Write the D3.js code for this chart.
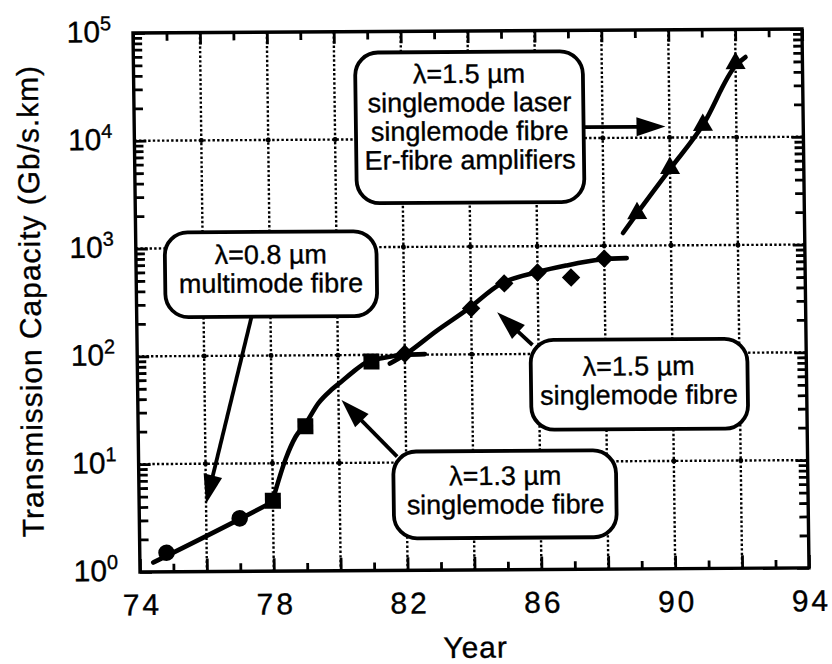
<!DOCTYPE html>
<html><head><meta charset="utf-8">
<script src="https://cdn.jsdelivr.net/npm/d3@7"></script>
<style>
body{margin:0;background:#fff}
svg{display:block}
text{font-family:"Liberation Sans",Arial,Helvetica,sans-serif;fill:#000;stroke:#000;stroke-width:0.35px}
</style>
</head><body>
<svg id="c" width="832" height="664"></svg>
<script>
// ---------------- data ----------------
const xTickLabels = [74, 78, 82, 86, 90, 94];
const yTickExponents = [0, 1, 2, 3, 4, 5];
const gridYears = [76, 78, 80, 82, 84, 86, 88, 90, 92];
const gridDecades = [1e1, 1e2, 1e3, 1e4];

// 0.8 um multimode fibre
const multimodeCircles = [[74.8, 1.5], [77, 3.1]];
const multimodeCurve = [[74.4, 1.22], [77, 3.05], [78, 4.4]];
// 1.3 um singlemode fibre
const sm13Squares = [[78, 4.5], [79, 22], [81, 87]];
const sm13Curve = [[78, 4.6], [78.4, 11], [78.7, 17.5], [79, 23], [79.4, 36], [79.8, 48], [80.1, 57], [80.4, 68], [80.8, 84], [81.3, 93], [82, 100], [82.6, 101]];
// 1.5 um singlemode fibre
const sm15Diamonds = [[82, 102], [84, 267], [85, 453], [86, 570], [87, 510], [88, 760]];
const sm15Curve = [[81.55, 83], [82, 100], [82.96, 166], [83.9, 263], [84.9, 450], [86.0, 575], [86.85, 658], [87.9, 745], [88.67, 765]];
// 1.5 um singlemode laser + Er-fibre amplifiers
const erTriangles = [[89, 1990], [90, 5200], [91, 13000], [92, 48400]];
const erCurve = [[88.57, 1310], [89, 1990], [90, 5100], [91, 13000], [92, 46000], [92.3, 55300]];

const noteTexts = [
  ["λ=1.5 µm", "singlemode laser", "singlemode fibre", "Er-fibre amplifiers"],
  ["λ=0.8 µm", "multimode fibre"],
  ["λ=1.5 µm", "singlemode fibre"],
  ["λ=1.3 µm", "singlemode fibre"]
];
const xTitle = "Year";
const yTitle = "Transmission Capacity (Gb/s.km)";

// ---------------- layout ----------------
const W = 670, H = 540;
const x = d3.scaleLinear().domain([74, 94]).range([0, W]);
const y = d3.scaleLog().domain([1, 1e5]).range([H, 0]);

const svg = d3.select('#c');
// slight skew / rotation of the scanned figure
const g = svg.append('g').attr('transform', 'matrix(0.9985,-0.006,0.013,0.998,133,33)');

// gridlines (dotted)
const grid = g.append('g');
grid.selectAll('line.v').data(gridYears).join('line').attr('class', 'v')
  .attr('x1', d => x(d)).attr('x2', d => x(d)).attr('y1', 0).attr('y2', H);
grid.selectAll('line.h').data(gridDecades).join('line').attr('class', 'h')
  .attr('y1', d => y(d)).attr('y2', d => y(d)).attr('x1', 0).attr('x2', W);
grid.selectAll('line').attr('stroke', '#000').attr('stroke-width', 2.4).attr('stroke-dasharray', '2.4,2.2');
const inter = [];
gridYears.forEach(a => gridDecades.forEach(b => inter.push([a, b])));
grid.selectAll('circle').data(inter).join('circle')
  .attr('cx', d => x(d[0])).attr('cy', d => y(d[1])).attr('r', 2.5).attr('fill', '#000');

// annotation boxes
const noteLayout = [
  {box: [222, 21, 450, 172], cx: 336, base: 52, arrow: [451, 97, 532, 97]},
  {box: [29, 200, 241, 285], cx: 135, base: 232, arrow: [115, 285, 67, 472]},
  {box: [394, 310, 611, 400], cx: 502, base: 346, arrow: [396, 315, 361, 282]},
  {box: [255, 421, 478, 508], cx: 367, base: 455, arrow: [259, 426, 204, 369]}
];
const notes = g.append('g');
function arrow(sel, a) {
  const [x1, y1, x2, y2] = a;
  const L = 29, hw = 9.5;
  const dx = x2 - x1, dy = y2 - y1, len = Math.hypot(dx, dy);
  const ux = dx / len, uy = dy / len;
  const bx = x2 - ux * L, by = y2 - uy * L;
  sel.append('line').attr('x1', x1).attr('y1', y1).attr('x2', bx + ux * 2).attr('y2', by + uy * 2)
    .attr('stroke', '#000').attr('stroke-width', 3.8);
  sel.append('path').attr('d', `M${x2},${y2}L${bx - uy * hw},${by + ux * hw}L${bx + uy * hw},${by - ux * hw}Z`)
    .attr('fill', '#000');
}
noteLayout.forEach((n, i) => {
  const s = notes.append('g');
  arrow(s, n.arrow);
  const [x0, y0, x1, y1] = n.box;
  s.append('rect').attr('x', x0).attr('y', y0).attr('width', x1 - x0).attr('height', y1 - y0)
    .attr('rx', 23).attr('fill', '#fff').attr('stroke', '#000').attr('stroke-width', 3.8);
  s.selectAll('text').data(noteTexts[i]).join('text')
    .attr('x', n.cx).attr('y', (d, j) => n.base + j * 28.8)
    .attr('text-anchor', 'middle').attr('font-size', 27).text(d => d);
});

// curves
const line = d3.line().x(d => x(d[0])).y(d => y(d[1])).curve(d3.curveMonotoneX);
[multimodeCurve, sm13Curve, sm15Curve, erCurve].forEach(c => {
  g.append('path').attr('d', line(c)).attr('fill', 'none').attr('stroke', '#000')
    .attr('stroke-width', 4.6).attr('stroke-linecap', 'round').attr('stroke-linejoin', 'round');
});

// markers
g.append('g').selectAll('circle').data(multimodeCircles).join('circle')
  .attr('cx', d => x(d[0])).attr('cy', d => y(d[1])).attr('r', 8.3).attr('fill', '#000');
g.append('g').selectAll('path').data(sm13Squares).join('path')
  .attr('transform', d => `translate(${x(d[0])},${y(d[1])})`)
  .attr('d', d3.symbol(d3.symbolSquare, 256)).attr('fill', '#000');
g.append('g').selectAll('path').data(sm15Diamonds).join('path')
  .attr('transform', d => `translate(${x(d[0])},${y(d[1])}) rotate(45)`)
  .attr('d', d3.symbol(d3.symbolSquare, 170)).attr('fill', '#000');
g.append('g').selectAll('path').data(erTriangles).join('path')
  .attr('transform', d => `translate(${x(d[0])},${y(d[1])})`)
  .attr('d', d3.symbol(d3.symbolTriangle, 175)).attr('fill', '#000');

// axes (ticks inside)
const decades = yTickExponents.map(e => 10 ** e);
const minorVals = [];
for (let e = 0; e < 5; e++) for (let k = 2; k < 10; k++) minorVals.push(k * 10 ** e);
const majorYears = d3.range(74, 95, 2);
const minorYears = d3.range(75, 94, 2);
function styleAxis(sel) {
  sel.select('.domain').remove();
  sel.selectAll('.tick line').attr('stroke', '#000').attr('stroke-width', 2.8);
}
g.append('g').call(d3.axisLeft(y).tickValues(decades).tickSize(-12).tickFormat('')).call(styleAxis);
g.append('g').call(d3.axisLeft(y).tickValues(minorVals).tickSize(-9).tickFormat('')).call(styleAxis);
g.append('g').attr('transform', `translate(${W},0)`).call(d3.axisRight(y).tickValues(decades).tickSize(-12).tickFormat('')).call(styleAxis);
g.append('g').attr('transform', `translate(${W},0)`).call(d3.axisRight(y).tickValues(minorVals).tickSize(-9).tickFormat('')).call(styleAxis);
g.append('g').attr('transform', `translate(0,${H})`).call(d3.axisBottom(x).tickValues(majorYears).tickSize(-13).tickFormat('')).call(styleAxis);
g.append('g').attr('transform', `translate(0,${H})`).call(d3.axisBottom(x).tickValues(minorYears).tickSize(-8).tickFormat('')).call(styleAxis);
g.append('g').call(d3.axisTop(x).tickValues(majorYears).tickSize(-12).tickFormat('')).call(styleAxis);
g.append('g').call(d3.axisTop(x).tickValues(minorYears).tickSize(-8).tickFormat('')).call(styleAxis);

// x tick labels
const xl = g.append('g').attr('transform', `translate(0,${H})`)
  .call(d3.axisBottom(x).tickValues(xTickLabels).tickSize(0).tickPadding(22).tickFormat(d3.format('d')));
xl.select('.domain').remove();
xl.selectAll('text').attr('font-size', 30).attr('font-family', '"Liberation Sans",Arial,sans-serif')
  .attr('letter-spacing', 3).attr('dx', 1.5).attr('fill', '#000');

// y tick labels 10^n
g.append('g').selectAll('text').data(yTickExponents).join('text')
  .attr('x', -22).attr('y', d => y(10 ** d) + 9).attr('text-anchor', 'end').attr('font-size', 30)
  .each(function (d) {
    const t = d3.select(this);
    t.append('tspan').text('10');
    t.append('tspan').attr('dy', -12).attr('font-size', 20).text(d);
  });

// border
g.append('rect').attr('x', 0).attr('y', 0).attr('width', W).attr('height', H)
  .attr('fill', 'none').attr('stroke', '#000').attr('stroke-width', 3.4);

// titles
g.append('text').attr('x', W / 2).attr('y', 628).attr('text-anchor', 'middle')
  .attr('font-size', 30).attr('letter-spacing', 1).text(xTitle);
g.append('text').attr('transform', `translate(-96,${H / 2 - 2}) rotate(-90)`).attr('text-anchor', 'middle')
  .attr('font-size', 30).attr('letter-spacing', 1).text(yTitle);
</script>
</body></html>
